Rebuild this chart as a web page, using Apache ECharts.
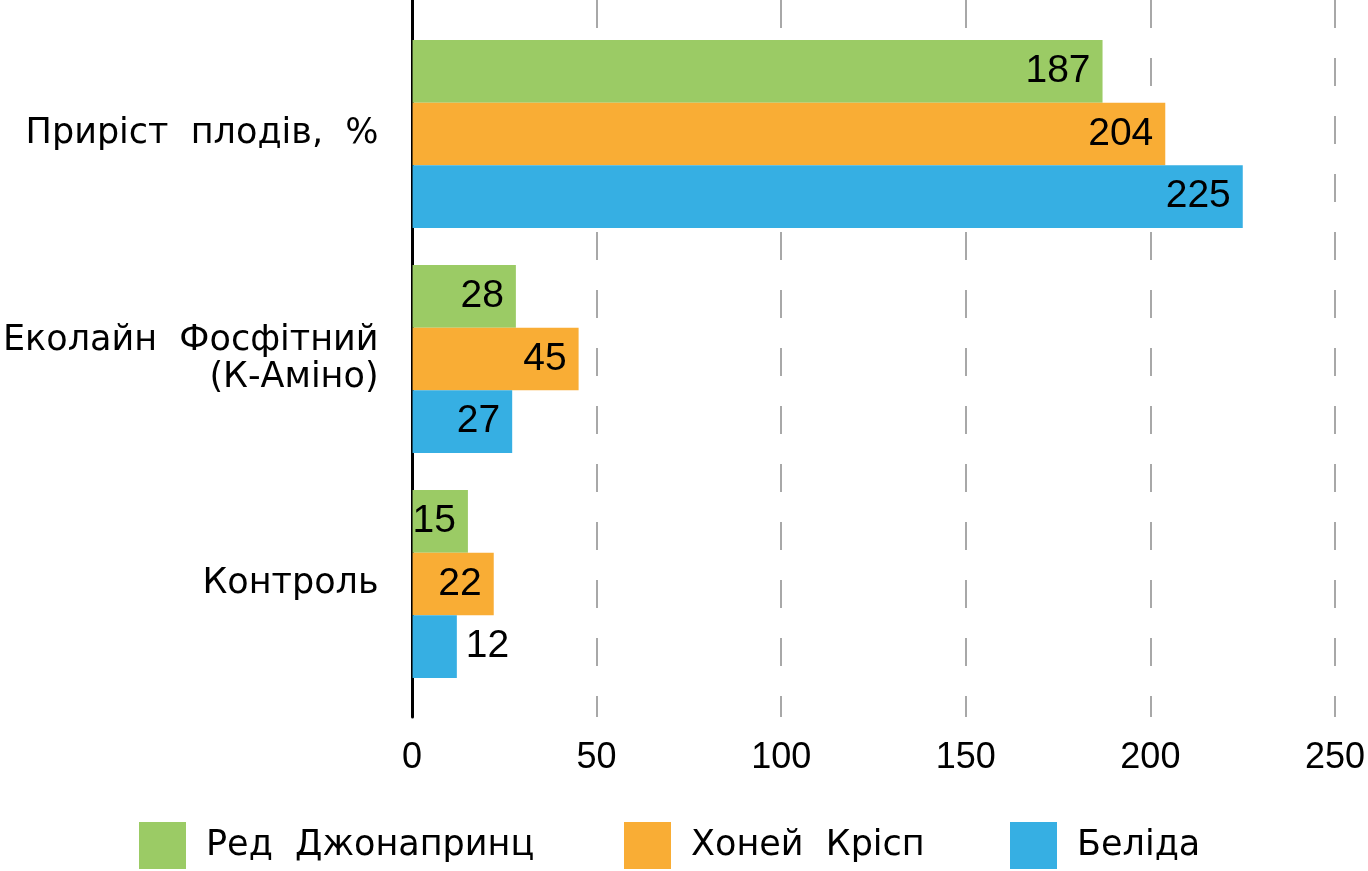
<!DOCTYPE html>
<html>
<head>
<meta charset="utf-8">
<script src="https://cdn.jsdelivr.net/npm/echarts@6/dist/echarts.min.js"></script>
<style>
  html, body { margin: 0; padding: 0; background: #fff; }
  #chart { width: 1368px; height: 871px; }
</style>
</head>
<body>
<div id="chart"></div>
<script>
// categories top to bottom
var categories = ["Приріст  плодів,  %", "Еколайн  Фосфітний\n(К-Аміно)", "Контроль"];
var seriesNames = ["Ред  Джонапринц", "Хоней  Крісп", "Беліда"];
var redJonaprince = [187, 28, 15];
var honeyCrisp = [204, 45, 22];
var belida = [225, 27, 12];
var xTicks = { min: 0, max: 250, interval: 50 };

var colors = ["#9bcb65", "#f9ad35", "#36afe3"];
var font = "Liberation Sans, Arial, sans-serif";
// words look letter-spaced in the original, a wider face gets closer
var wideFont = "DejaVu Sans, sans-serif";

var chartDom = document.getElementById("chart");
var mychart = echarts.init(chartDom);

function barSeries(name, values, color) {
  return {
    name: name,
    type: "bar",
    xAxisIndex: 1,
    yAxisIndex: 1,
    barGap: "0%",
    barCategoryGap: "16.4%",
    itemStyle: { color: color },
    label: {
      show: true,
      position: "insideRight",
      distance: 12,
      color: "#000",
      fontSize: 39,
      fontFamily: font,
    },
    data: values.map(function (v) {
      // small bar: label sits outside
      if (v < 13) {
        return { value: v, label: { position: "right", distance: 9 } };
      }
      return v;
    }),
  };
}

function legendAt(left, name) {
  return {
    data: [name],
    left: left,
    top: 822,
    padding: 0,
    itemWidth: 47,
    itemHeight: 47,
    itemGap: 0,
    icon: "rect",
    textStyle: { fontSize: 35, fontFamily: wideFont, color: "#000", padding: [0, 0, 0, 15] },
  };
}

var option = {
  animation: false,
  backgroundColor: "#fff",
  textStyle: { fontFamily: font },
  legend: [
    legendAt(139, seriesNames[0]),
    legendAt(624, seriesNames[1]),
    legendAt(1010, seriesNames[2]),
  ],
  grid: [
    { left: 412, right: 33, top: 0, height: 717 },
    { left: 412, right: 33, top: 21.5, height: 675 },
  ],
  xAxis: [
    {
      gridIndex: 0,
      type: "value",
      min: xTicks.min,
      max: xTicks.max,
      interval: xTicks.interval,
      axisLine: { show: false },
      axisTick: { show: false },
      axisLabel: { fontSize: 36, color: "#000", fontFamily: font, margin: 23 },
      splitLine: {
        show: true,
        lineStyle: { color: "#a8a8a8", width: 2, type: [28, 30] },
      },
    },
    {
      gridIndex: 1,
      type: "value",
      min: xTicks.min,
      max: xTicks.max,
      show: false,
    },
  ],
  yAxis: [
    {
      gridIndex: 0,
      type: "value",
      axisLine: { show: true, lineStyle: { color: "#000", width: 3 } },
      axisTick: { show: false },
      axisLabel: { show: false },
      splitLine: { show: false },
    },
    {
      gridIndex: 1,
      type: "category",
      inverse: true,
      data: categories,
      axisLine: { show: false },
      axisTick: { show: false },
      axisLabel: {
        fontSize: 35,
        color: "#000",
        fontFamily: wideFont,
        margin: 34,
        lineHeight: 37,
        align: "right",
      },
    },
  ],
  series: [
    barSeries(seriesNames[0], redJonaprince, colors[0]),
    barSeries(seriesNames[1], honeyCrisp, colors[1]),
    barSeries(seriesNames[2], belida, colors[2]),
  ],
};
mychart.setOption(option);
</script>
</body>
</html>
